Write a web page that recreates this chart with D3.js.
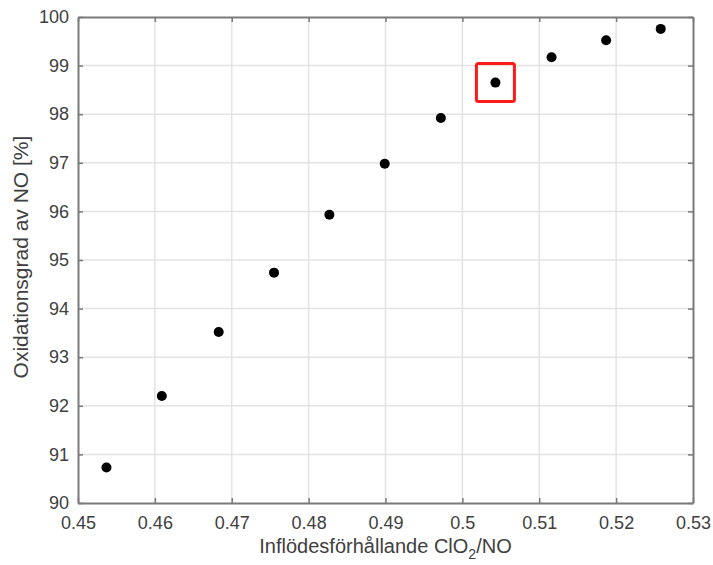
<!DOCTYPE html>
<html>
<head>
<meta charset="UTF-8">
<script src="https://cdn.jsdelivr.net/npm/d3@7"></script>
<style>
  body { margin: 0; background: #fff; }
  text { font-family: "Liberation Sans", Arial, sans-serif; }
</style>
</head>
<body>
<svg width="713" height="565"></svg>
<script>
// data
var ratio = [0.4537, 0.4609, 0.4683, 0.4755, 0.4827, 0.4899, 0.4972, 0.5043, 0.5116, 0.5187, 0.5258];
var oxidation = [90.73, 92.2, 93.52, 94.74, 95.93, 96.98, 97.92, 98.65, 99.17, 99.52, 99.755];
var xTicks = [0.45, 0.46, 0.47, 0.48, 0.49, 0.5, 0.51, 0.52, 0.53];
var yTicks = [90, 91, 92, 93, 94, 95, 96, 97, 98, 99, 100];
var highlighted = 7; // the point in the red box

var marge = {top: 17, right: 20, bottom: 62, left: 78};
var svg = d3.select("svg");
var width = +svg.attr("width") - marge.left - marge.right;
var height = +svg.attr("height") - marge.top - marge.bottom;
var g = svg.append("g").attr("transform", "translate(" + marge.left + "," + marge.top + ")");

var x = d3.scaleLinear().domain([0.45, 0.53]).range([0, width]);
var y = d3.scaleLinear().domain([90, 100]).range([height, 0]);

// grid
g.append("g").selectAll("line").data(xTicks.slice(1, -1)).enter().append("line")
  .attr("x1", d => x(d)).attr("x2", d => x(d)).attr("y1", 0).attr("y2", height)
  .attr("stroke", "#e3e3e3").attr("stroke-width", 1.5);
g.append("g").selectAll("line").data(yTicks.slice(1, -1)).enter().append("line")
  .attr("y1", d => y(d)).attr("y2", d => y(d)).attr("x1", 0).attr("x2", width)
  .attr("stroke", "#e3e3e3").attr("stroke-width", 1.5);

// axes (ticks pointing inward)
var xAxis = g.append("g").attr("transform", "translate(0," + height + ")")
  .call(d3.axisBottom(x).tickValues(xTicks).tickSizeInner(-5).tickSizeOuter(0).tickPadding(13)
    .tickFormat(d3.format("~g")));
var yAxis = g.append("g")
  .call(d3.axisLeft(y).tickValues(yTicks).tickSizeInner(-5).tickSizeOuter(0).tickPadding(9));
var xTop = g.append("g")
  .call(d3.axisTop(x).tickValues(xTicks).tickSizeInner(-5).tickSizeOuter(0).tickFormat(""));
var yRight = g.append("g").attr("transform", "translate(" + width + ",0)")
  .call(d3.axisRight(y).tickValues(yTicks).tickSizeInner(-5).tickSizeOuter(0).tickFormat(""));

[xAxis, yAxis, xTop, yRight].forEach(function(a) {
  a.selectAll(".domain").attr("stroke", "#7a7a7a").attr("stroke-width", 2);
  a.selectAll(".tick line").attr("stroke", "#7a7a7a").attr("stroke-width", 1.5);
  a.selectAll(".tick text").attr("fill", "#404040").style("font-size", "18px");
});

// points
g.append("g").selectAll("circle").data(ratio).enter().append("circle")
  .attr("cx", d => x(d))
  .attr("cy", (d, i) => y(oxidation[i]))
  .attr("r", 5)
  .attr("fill", "#000");

// red box around the highlighted point
g.append("rect")
  .attr("x", x(ratio[highlighted]) - 19)
  .attr("y", y(oxidation[highlighted]) - 19)
  .attr("width", 38).attr("height", 38)
  .attr("rx", 2)
  .attr("fill", "none").attr("stroke", "#ff1a1a").attr("stroke-width", 3);

// labels
var xl = svg.append("text")
  .attr("x", marge.left + width / 2).attr("y", 553)
  .attr("text-anchor", "middle").attr("fill", "#404040").style("font-size", "20px");
xl.append("tspan").text("Inflödesförhållande ClO");
xl.append("tspan").attr("dy", 6).style("font-size", "14px").text("2");
xl.append("tspan").attr("dy", -6).text("/NO");

svg.append("text")
  .attr("transform", "translate(28,257) rotate(-90)")
  .attr("text-anchor", "middle").attr("fill", "#404040").style("font-size", "21px")
  .text("Oxidationsgrad av NO [%]");
</script>
</body>
</html>
